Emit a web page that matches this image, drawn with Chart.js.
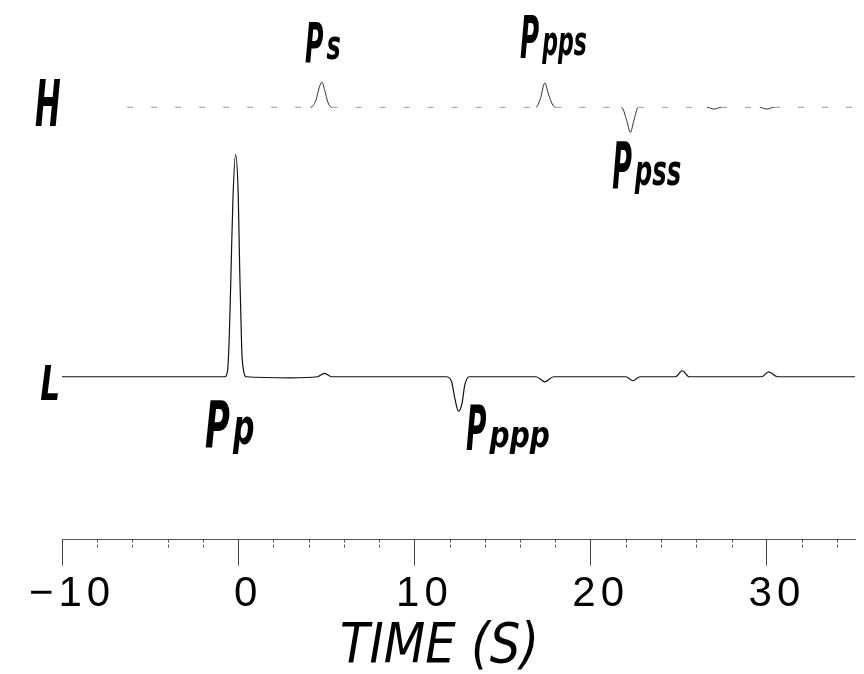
<!DOCTYPE html>
<html>
<head>
<meta charset="utf-8">
<script src="https://cdn.jsdelivr.net/npm/chart.js@4"></script>
<style>
  html, body { margin: 0; padding: 0; background: #fff; }
  canvas { display: block; }
</style>
</head>
<body>
<canvas id="rfChart" width="864" height="674"></canvas>
<script>
// L trace (time in s, amplitude normalised to the Pp peak)
const L_TIME = [-10, -2, -0.75, -0.6, -0.5, -0.4, -0.3, -0.15, 0.0, 0.08, 0.2, 0.3, 0.45, 3, 4.5, 4.9, 5.3, 8,
  11.8, 12.1, 12.3, 12.5, 12.7, 12.85, 13.1, 16.9, 17.4, 17.9, 22.0, 22.4, 22.8, 24.8, 25.2, 25.6, 29.7, 30.1, 30.6, 35];
const L_AMP = [0, 0, 0, 0.03, 0.2, 0.5, 0.8, 1.0, 0.82, 0.5, 0.12, 0.03, 0, -0.005, 0, 0.015, 0, 0,
  0, -0.02, -0.1, -0.155, -0.12, -0.04, 0, 0, -0.023, 0, 0, -0.018, 0, 0, 0.027, 0, 0, 0.022, 0, 0];

// H trace
const H_TIME = [-6.3, 4.1, 4.4, 4.6, 4.75, 4.9, 5.1, 5.3, 16.9, 17.15, 17.4, 17.6, 17.85, 18.0,
  21.75, 22.05, 22.25, 22.45, 22.7, 26.6, 27.0, 27.4, 29.6, 30.0, 30.4, 35];
const H_AMP = [0, 0, 0.03, 0.09, 0.113, 0.08, 0.02, 0, 0, 0.04, 0.11, 0.06, 0.01, 0,
  0, -0.06, -0.113, -0.06, 0, 0, -0.008, 0, 0, -0.008, 0, 0];

const H_OFFSET = 1.213;
const MINOR_TICKS = [-8, -6, -4, -2, 2, 4, 6, 8, 12, 14, 16, 18, 22, 24, 26, 28, 32, 34];

// handwritten annotations
const NOTE_TEXT = ['H', 'L', 'P', 'P', 'P', 'P', 'P', 'TIME (S)'];
const NOTE_SUB = ['', '', 's', 'pps', 'pss', 'p', 'ppp', ''];
const NOTE_T = [-11.53, -11.24, 3.79, 15.99, 21.22, -1.88, 12.93, 5.78];
const NOTE_V = [1.131, -0.104, 1.416, 1.434, 0.85, -0.317, -0.33, -1.285];

const NOTE_STYLE = [
  { size: 64, sx: 0.48, sub: 40, subSx: 0.6, weight: 'bold' },
  { size: 48, sx: 0.65, sub: 40, subSx: 0.6, weight: 'bold' },
  { size: 56, sx: 0.45, sub: 40, subSx: 0.6, weight: 'bold' },
  { size: 58, sx: 0.45, sub: 40, subSx: 0.55, weight: 'bold' },
  { size: 64, sx: 0.42, sub: 42, subSx: 0.58, weight: 'bold' },
  { size: 64, sx: 0.53, sub: 50, subSx: 0.6, weight: 'bold' },
  { size: 62, sx: 0.45, sub: 36, subSx: 0.78, weight: 'bold' },
  { size: 56, sx: 0.86, sub: 0, subSx: 1, weight: 'normal' }
];

const lData = L_TIME.map((t, i) => ({ x: t, y: L_AMP[i] }));
const hData = H_TIME.map((t, i) => ({ x: t, y: H_AMP[i] + H_OFFSET }));

const isFlat = ctx => ctx.p0.parsed.y === H_OFFSET && ctx.p1.parsed.y === H_OFFSET;

function drawPart(ctx, text, x, y, size, sx, weight) {
  ctx.save();
  ctx.font = `italic ${weight} ${size}px "DejaVu Sans"`;
  ctx.translate(x, y);
  ctx.scale(sx, 1);
  ctx.fillText(text, 0, 0);
  const w = ctx.measureText(text).width * sx;
  ctx.restore();
  return w;
}

const extras = {
  id: 'extras',
  beforeDraw(chart) {
    // wider spacing for the tick numbers
    chart.ctx.letterSpacing = '5px';
  },
  afterDraw(chart) {
    const { ctx, chartArea } = chart;
    const xs = chart.scales.x;
    const ys = chart.scales.y;
    ctx.letterSpacing = '0px';

    // minor ticks
    ctx.save();
    ctx.strokeStyle = '#555';
    ctx.lineWidth = 1;
    ctx.setLineDash([3, 2]);
    MINOR_TICKS.forEach(m => {
      const px = Math.round(xs.getPixelForValue(m)) + 0.5;
      ctx.beginPath();
      ctx.moveTo(px, chartArea.bottom);
      ctx.lineTo(px, chartArea.bottom + 10);
      ctx.stroke();
    });
    ctx.restore();

    // annotations
    ctx.save();
    ctx.fillStyle = '#000';
    ctx.textBaseline = 'alphabetic';
    NOTE_TEXT.forEach((txt, i) => {
      const st = NOTE_STYLE[i];
      const x = xs.getPixelForValue(NOTE_T[i]);
      const y = ys.getPixelForValue(NOTE_V[i]);
      const w = drawPart(ctx, txt, x, y, st.size, st.sx, st.weight);
      if (NOTE_SUB[i]) drawPart(ctx, NOTE_SUB[i], x + w + 3, y - 3, st.sub, st.subSx, st.weight);
    });
    ctx.restore();
  }
};

new Chart(document.getElementById('rfChart').getContext('2d'), {
  type: 'line',
  data: {
    datasets: [
      {
        label: 'L',
        data: lData,
        borderColor: '#111',
        borderWidth: 1.2,
        pointRadius: 0,
        cubicInterpolationMode: 'monotone',
        fill: false
      },
      {
        label: 'H',
        data: hData,
        borderColor: '#333',
        borderWidth: 1,
        pointRadius: 0,
        cubicInterpolationMode: 'monotone',
        fill: false,
        segment: {
          borderDash: ctx => isFlat(ctx) ? [6, 18] : undefined,
          borderColor: ctx => isFlat(ctx) ? '#999' : undefined
        }
      }
    ]
  },
  options: {
    responsive: false,
    animation: false,
    layout: { padding: { left: 62, right: 9, top: 20, bottom: 50 } },
    plugins: { legend: { display: false }, tooltip: { enabled: false } },
    scales: {
      x: {
        type: 'linear',
        position: 'bottom',
        min: -10,
        max: 35,
        border: { display: true, color: '#555', width: 1, dash: [14, 5] },
        grid: { drawOnChartArea: false, drawTicks: true, tickLength: 26, tickColor: '#444', lineWidth: 1 },
        ticks: {
          stepSize: 10,
          includeBounds: false,
          autoSkip: false,
          maxRotation: 0,
          padding: 4,
          labelOffset: 10,
          color: '#000',
          font: { family: 'Liberation Sans', size: 42 },
          callback: v => String(v).replace('-', '\u2212')
        }
      },
      y: { display: false, min: -0.733, max: 1.606 }
    }
  },
  plugins: [extras]
});
</script>
</body>
</html>
